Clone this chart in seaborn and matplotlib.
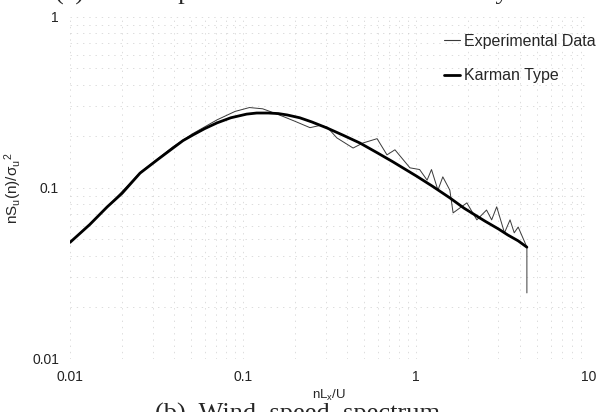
import matplotlib
matplotlib.use("Agg")
import matplotlib.pyplot as plt
import seaborn as sns
from matplotlib.lines import Line2D

# Karman type spectrum
karman_x = [0.01, 0.013, 0.0164, 0.02, 0.0254, 0.032, 0.0394, 0.045, 0.0514, 0.06,
            0.0708, 0.085, 0.105, 0.12, 0.14, 0.16, 0.18, 0.213, 0.25, 0.306,
            0.38, 0.474, 0.6, 0.736, 0.85, 1.01, 1.25, 1.57, 1.9, 2.5,
            3.0, 3.4, 3.9, 4.38]
karman_y = [0.048, 0.061, 0.0774, 0.093, 0.122, 0.146, 0.171, 0.189, 0.204, 0.222,
            0.240, 0.257, 0.270, 0.274, 0.274, 0.272, 0.267, 0.257, 0.243, 0.224,
            0.203, 0.183, 0.160, 0.142, 0.130, 0.117, 0.102, 0.0874, 0.0760, 0.0640,
            0.0575, 0.0530, 0.0490, 0.045]

exp_x = [0.01, 0.0164, 0.0254, 0.0394, 0.0514, 0.0708, 0.09, 0.109, 0.13, 0.143,
         0.170, 0.2, 0.244, 0.28, 0.306, 0.349, 0.433, 0.494, 0.596, 0.680,
         0.756, 0.923, 1.05, 1.16, 1.23, 1.34, 1.43, 1.57, 1.64, 1.97,
         2.25, 2.56, 2.74, 2.93, 3.25, 3.5, 3.7, 3.9, 4.38, 4.38]
exp_y = [0.048, 0.077, 0.123, 0.174, 0.208, 0.250, 0.280, 0.295, 0.290, 0.280,
         0.262, 0.245, 0.225, 0.232, 0.227, 0.196, 0.171, 0.183, 0.194, 0.156,
         0.167, 0.131, 0.128, 0.111, 0.128, 0.097, 0.116, 0.097, 0.0714, 0.0817,
         0.065, 0.0742, 0.065, 0.0775, 0.0546, 0.065, 0.0546, 0.059, 0.045, 0.0243]

x_ticks = [0.01, 0.1, 1, 10]
x_ticklabels = ["0.01", "0.1", "1", "10"]
y_ticks = [0.01, 0.1, 1]
y_ticklabels = ["0.01", "0.1", "1"]

sns.set_style("white")
plt.rcParams["font.family"] = ["Liberation Sans", "DejaVu Sans"]
plt.rcParams["mathtext.default"] = "regular"

fig = plt.figure(figsize=(6.09, 4.12), dpi=100)
ax = fig.add_axes([0.115, 0.129, 0.852, 0.83])

sns.lineplot(x=exp_x, y=exp_y, ax=ax, color="#3a3a3a", linewidth=0.7,
             sort=False, estimator=None)
sns.lineplot(x=karman_x, y=karman_y, ax=ax, color="black", linewidth=2.0,
             sort=False, estimator=None)

ax.set_xscale("log")
ax.set_yscale("log")
ax.set_xlim(0.01, 10)
ax.set_ylim(0.01, 1)
ax.set_xticks(x_ticks)
ax.set_xticklabels(x_ticklabels)
ax.set_yticks(y_ticks)
ax.set_yticklabels(y_ticklabels)
ax.tick_params(which="both", length=0, labelsize=10, colors="#222222", pad=8)
ax.grid(True, which="both", linestyle=(0, (2, 7)), color="#cfcfcf", linewidth=0.5)
for s in ax.spines.values():
    s.set_visible(False)

ax.set_xlabel(r"nL$_x$/U", fontsize=9.5, labelpad=3)
ax.set_ylabel(r"nS$_u$(n)/$\sigma_u$$^2$", fontsize=11, labelpad=6)

handles = [Line2D([], [], color="#3a3a3a", linewidth=0.8),
           Line2D([], [], color="black", linewidth=2.0)]
ax.legend(handles, ["Experimental Data", "Karman Type"], loc="upper left",
          bbox_to_anchor=(0.72, 0.95), frameon=False, fontsize=11.5,
          handlelength=1.0, handletextpad=0.25, labelspacing=1.2,
          borderpad=0, borderaxespad=0)

# scanned caption fragments cut by the page edges
fig.text(0.09, 1.015, "(a)  Wind  speed  and  turbulence  intensity",
         family="Liberation Serif", fontsize=19, va="center")
fig.text(0.255, 0.022, "(b)  Wind  speed  spectrum",
         family="Liberation Serif", fontsize=19, va="top")

fig.savefig("out.png", dpi=100)
